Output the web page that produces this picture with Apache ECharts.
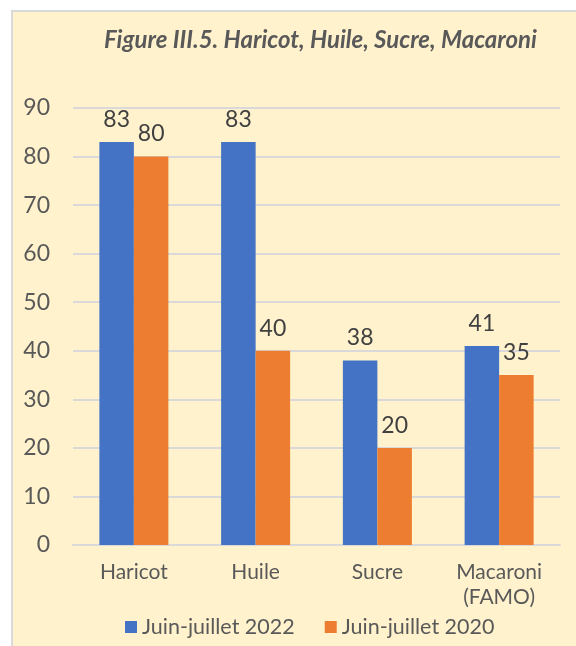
<!DOCTYPE html>
<html>
<head>
<meta charset="utf-8">
<script src="https://cdn.jsdelivr.net/npm/echarts@6/dist/echarts.min.js"></script>
<style>
  html, body { margin: 0; padding: 0; background: #fff; overflow: hidden; }
  #frame { position: absolute; left: 11px; top: 10px; width: 600px; height: 700px;
           background: #FFF2CC; border: 2px solid #D9D9D9; }
  #chart { position: absolute; left: 0; top: 0; width: 576px; height: 646px; }
</style>
</head>
<body>
<div id="frame"></div>
<div id="chart"></div>
<script>
// categories and values
const categories = ['Haricot', 'Huile', 'Sucre', 'Macaroni\n(FAMO)'];
const juinJuillet2022 = [83, 83, 38, 41];
const juinJuillet2020 = [80, 40, 20, 35];
const yTicks = [0, 10, 20, 30, 40, 50, 60, 70, 80, 90];

const font = 'Lato';
const grey = '#595959';

let ec = echarts.init(document.getElementById('chart'), null, { renderer: 'canvas' });

let labelStyle = {
    show: true,
    position: 'top',
    distance: 11,
    fontFamily: font,
    fontSize: 23,
    color: '#404040'
};

ec.setOption({
    backgroundColor: 'transparent',
    animation: false,
    title: {
        text: 'Figure III.5. Haricot, Huile, Sucre, Macaroni',
        left: 99,
        top: 23,
        textStyle: { fontFamily: font, fontSize: 24, fontStyle: 'italic', fontWeight: 'bold', color: grey }
    },
    legend: {
        bottom: 3,
        left: 120,
        itemWidth: 12,
        itemHeight: 12,
        itemGap: 30,
        icon: 'rect',
        textStyle: { fontFamily: font, fontSize: 21.5, color: grey },
        data: ['Juin-juillet 2022', 'Juin-juillet 2020']
    },
    grid: { left: 73, right: 16, top: 108, bottom: 101, containLabel: false },
    xAxis: {
        type: 'category',
        data: categories,
        axisLine: { lineStyle: { color: '#D9D9D9', width: 2 } },
        axisTick: { show: false },
        axisLabel: { fontFamily: font, fontSize: 21, color: grey, margin: 15, lineHeight: 25 }
    },
    yAxis: {
        type: 'value',
        min: yTicks[0],
        max: yTicks[yTicks.length - 1],
        interval: 10,
        axisLine: { show: false },
        axisTick: { show: false },
        axisLabel: { fontFamily: font, fontSize: 23, color: grey, margin: 23 },
        splitLine: { lineStyle: { color: '#D9D9D9', width: 2 } }
    },
    series: [
        {
            name: 'Juin-juillet 2022',
            type: 'bar',
            data: juinJuillet2022,
            barWidth: 34.5,
            barGap: '0%',
            itemStyle: { color: '#4472C4' },
            label: labelStyle
        },
        {
            name: 'Juin-juillet 2020',
            type: 'bar',
            data: juinJuillet2020,
            barWidth: 34.5,
            itemStyle: { color: '#ED7D31' },
            label: labelStyle
        }
    ]
});
</script>
</body>
</html>
